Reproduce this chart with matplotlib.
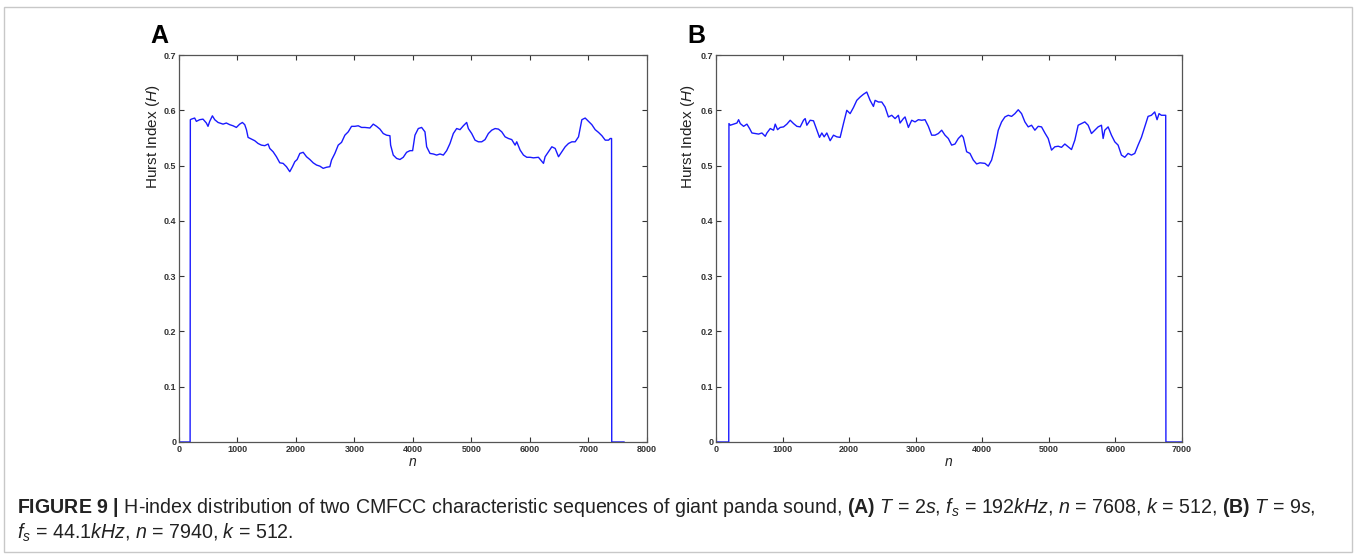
import matplotlib
matplotlib.use('Agg')
import matplotlib.pyplot as plt
from matplotlib.patches import Rectangle

plt.rcParams['font.family'] = ['Liberation Sans', 'DejaVu Sans']
plt.rcParams['mathtext.fontset'] = 'custom'
plt.rcParams['mathtext.rm'] = 'Liberation Sans'
plt.rcParams['mathtext.it'] = 'Liberation Sans:italic'
plt.rcParams['mathtext.bf'] = 'Liberation Sans:bold'

# Panel A: T = 2s, fs = 192kHz, n = 7608
n_a = [0, 190, 194, 211, 268, 297, 354, 411, 468, 496, 525, 571, 611, 668, 753, 810, 867,
       924, 981, 1038, 1084, 1124, 1153, 1181, 1238, 1295, 1352, 1409, 1466, 1524, 1552,
       1609, 1666, 1723, 1780, 1837, 1894, 1940, 1980, 2020, 2066, 2123, 2180, 2237, 2294,
       2351, 2408, 2465, 2522, 2579, 2608, 2665, 2722, 2779, 2836, 2893, 2950, 3007, 3064,
       3121, 3178, 3264, 3321, 3378, 3435, 3492, 3549, 3606, 3618, 3663, 3720, 3777, 3834,
       3891, 3949, 3994, 4034, 4091, 4148, 4177, 4205, 4234, 4291, 4348, 4405, 4462, 4519,
       4576, 4633, 4690, 4747, 4804, 4861, 4918, 4947, 5004, 5061, 5118, 5175, 5232, 5289,
       5346, 5404, 5461, 5518, 5575, 5632, 5689, 5746, 5774, 5832, 5889, 5946, 6003, 6060,
       6145, 6231, 6259, 6317, 6374, 6431, 6488, 6545, 6602, 6659, 6716, 6773, 6830, 6887,
       6944, 7001, 7058, 7115, 7172, 7230, 7287, 7344, 7372, 7395, 7398, 7608]
h_a = [0, 0, 0.583, 0.584, 0.586, 0.580, 0.583, 0.584, 0.577, 0.571, 0.580, 0.590, 0.583,
       0.578, 0.575, 0.577, 0.574, 0.572, 0.569, 0.575, 0.578, 0.574, 0.565, 0.551, 0.548,
       0.545, 0.540, 0.537, 0.536, 0.539, 0.531, 0.525, 0.516, 0.505, 0.504, 0.498, 0.489,
       0.498, 0.507, 0.511, 0.522, 0.524, 0.516, 0.511, 0.505, 0.501, 0.499, 0.495, 0.497,
       0.498, 0.510, 0.522, 0.537, 0.542, 0.555, 0.561, 0.571, 0.571, 0.572, 0.569, 0.569,
       0.568, 0.575, 0.571, 0.566, 0.558, 0.555, 0.554, 0.537, 0.519, 0.513, 0.511, 0.515,
       0.524, 0.527, 0.527, 0.555, 0.567, 0.569, 0.565, 0.561, 0.534, 0.522, 0.521, 0.519,
       0.521, 0.519, 0.527, 0.540, 0.558, 0.567, 0.565, 0.572, 0.578, 0.567, 0.558, 0.546,
       0.543, 0.543, 0.547, 0.558, 0.564, 0.567, 0.566, 0.561, 0.552, 0.549, 0.547, 0.537,
       0.543, 0.528, 0.519, 0.515, 0.515, 0.514, 0.515, 0.504, 0.516, 0.525, 0.534, 0.531,
       0.516, 0.525, 0.534, 0.540, 0.543, 0.543, 0.552, 0.583, 0.586, 0.580, 0.574, 0.565,
       0.560, 0.554, 0.546, 0.546, 0.549, 0.549, 0, 0]

# Panel B: T = 9s, fs = 44.1kHz, n = 7940
n_b = [0, 192, 195, 215, 265, 315, 340, 365, 415, 465, 505, 540, 590, 640, 690, 740, 765,
       815, 865, 890, 925, 965, 1015, 1065, 1115, 1165, 1215, 1265, 1315, 1340, 1365, 1415,
       1465, 1515, 1555, 1590, 1625, 1665, 1715, 1765, 1815, 1865, 1915, 1965, 2015, 2065,
       2115, 2165, 2215, 2265, 2315, 2365, 2390, 2440, 2490, 2540, 2590, 2640, 2690, 2740,
       2765, 2815, 2840, 2890, 2940, 2990, 3040, 3090, 3140, 3190, 3240, 3290, 3340, 3390,
       3440, 3490, 3540, 3590, 3640, 3690, 3715, 3765, 3815, 3865, 3915, 3965, 4040, 4090,
       4140, 4190, 4240, 4290, 4340, 4390, 4440, 4490, 4540, 4590, 4640, 4690, 4740, 4790,
       4840, 4890, 4940, 4990, 5040, 5090, 5140, 5190, 5240, 5290, 5340, 5390, 5440, 5490,
       5540, 5590, 5640, 5690, 5740, 5790, 5815, 5840, 5890, 5940, 5990, 6040, 6090, 6140,
       6190, 6240, 6290, 6340, 6390, 6440, 6490, 6540, 6590, 6625, 6655, 6690, 6740, 6755,
       6758, 7940]
h_b = [0, 0, 0.576, 0.573, 0.575, 0.577, 0.583, 0.576, 0.571, 0.575, 0.567, 0.559, 0.558,
       0.557, 0.559, 0.553, 0.559, 0.567, 0.564, 0.575, 0.565, 0.569, 0.570, 0.575, 0.582,
       0.576, 0.571, 0.570, 0.582, 0.585, 0.573, 0.582, 0.581, 0.564, 0.551, 0.559, 0.552,
       0.559, 0.545, 0.555, 0.552, 0.551, 0.576, 0.600, 0.594, 0.605, 0.618, 0.624, 0.629,
       0.633, 0.618, 0.607, 0.618, 0.615, 0.615, 0.606, 0.588, 0.591, 0.585, 0.591, 0.577,
       0.585, 0.588, 0.569, 0.582, 0.579, 0.583, 0.582, 0.583, 0.571, 0.555, 0.555, 0.558,
       0.564, 0.555, 0.549, 0.537, 0.539, 0.549, 0.555, 0.551, 0.525, 0.522, 0.510, 0.503,
       0.505, 0.504, 0.499, 0.510, 0.534, 0.564, 0.579, 0.588, 0.591, 0.589, 0.594, 0.601,
       0.594, 0.579, 0.570, 0.573, 0.564, 0.571, 0.570, 0.559, 0.549, 0.528, 0.534, 0.535,
       0.533, 0.539, 0.534, 0.529, 0.546, 0.573, 0.576, 0.579, 0.573, 0.558, 0.564, 0.570,
       0.573, 0.549, 0.564, 0.570, 0.555, 0.543, 0.537, 0.519, 0.515, 0.522, 0.519, 0.522,
       0.537, 0.551, 0.570, 0.589, 0.591, 0.597, 0.583, 0.594, 0.591, 0.591, 0.591, 0, 0]

y_ticks = [0, 0.1, 0.2, 0.3, 0.4, 0.5, 0.6, 0.7]
y_labels = ['0', '0.1', '0.2', '0.3', '0.4', '0.5', '0.6', '0.7']
xmax_a, xmax_b = 8000, 7000

fig = plt.figure(figsize=(13.56, 5.58), dpi=100)

# light frame around the whole figure
fig.patches.append(Rectangle((0.003, 0.01), 0.994, 0.978, transform=fig.transFigure,
                             fill=False, edgecolor='#c8c8c8', linewidth=1))

ax_a = fig.add_axes([0.1320, 0.2079, 0.3451, 0.6935])
ax_b = fig.add_axes([0.5280, 0.2079, 0.3437, 0.6935])

for ax, n, h, xmax, tag, lx in [(ax_a, n_a, h_a, xmax_a, 'A', -0.036),
                                (ax_b, n_b, h_b, xmax_b, 'B', -0.040)]:
    ax.plot(n, h, color='#1a1aff', linewidth=1.0)
    ax.set_xlim(0, xmax)
    ax.set_ylim(0, 0.7)
    ax.set_xticks(range(0, xmax + 1, 1000))
    ax.set_yticks(y_ticks)
    ax.set_yticklabels(y_labels)
    ax.tick_params(direction='in', top=True, right=True, length=3.5, width=0.8,
                   labelsize=6.5, colors='#333333', pad=2)
    for lbl in ax.get_xticklabels() + ax.get_yticklabels():
        lbl.set_fontweight('bold')
    for sp in ax.spines.values():
        sp.set_color('#555555')
        sp.set_linewidth(0.9)
    ax.set_ylabel('Hurst Index $(H)$', fontsize=11, color='#222222')
    ax.yaxis.set_label_coords(lx, 0.79)
    ax.set_xlabel('$n$', fontsize=10, color='#222222', labelpad=1)
    ax.text(-0.062, 1.018, tag, transform=ax.transAxes, fontsize=18, fontweight='bold',
            ha='left', va='bottom')

fig.text(0.0125, 0.09,
         r'$\bf{FIGURE\ 9\ |}$ H-index distribution of two CMFCC characteristic sequences of giant '
         r'panda sound, $\bf{(A)}$ $T$ = 2$s$, $f_s$ = 192$kHz$, $n$ = 7608, $k$ = 512, '
         r'$\bf{(B)}$ $T$ = 9$s$,',
         fontsize=14.1, ha='left', va='center', color='#222222')
fig.text(0.0125, 0.045,
         r'$f_s$ = 44.1$kHz$, $n$ = 7940, $k$ = 512.',
         fontsize=14.1, ha='left', va='center', color='#222222')

fig.savefig('out.png', dpi=100)
